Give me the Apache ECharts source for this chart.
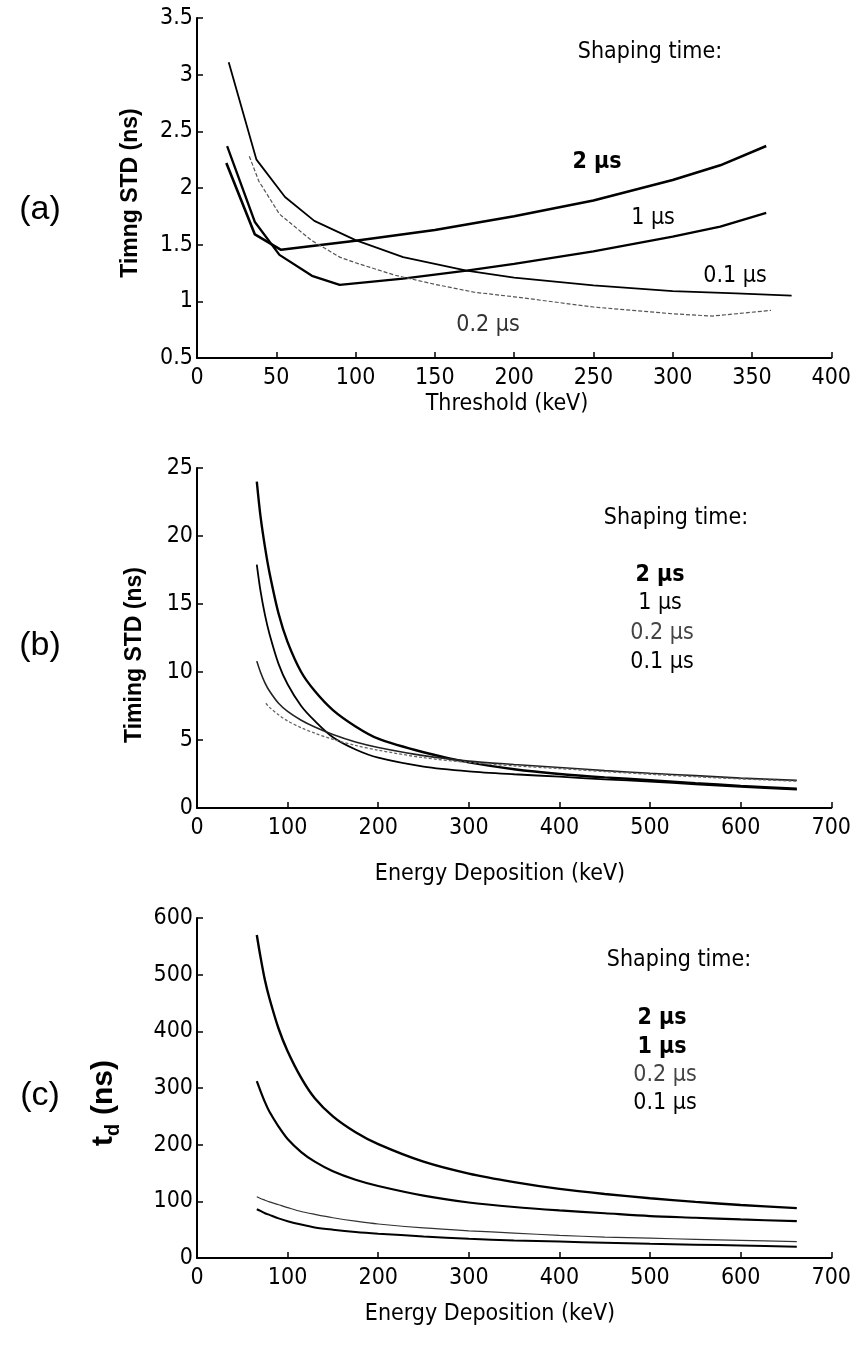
<!DOCTYPE html>
<html>
<head>
<meta charset="utf-8">
<script src="https://cdn.jsdelivr.net/npm/echarts@6/dist/echarts.min.js"></script>
<style>
html,body{margin:0;padding:0;background:#fff;}
#chart{width:854px;height:1345px;}
</style>
</head>
<body>
<div id="chart"></div>
<script>
// ---------- Panel (a): Timing STD vs Threshold ----------
const A_X_2us  = [18.5, 36.5, 53, 100, 150, 200, 250, 300, 330, 359];
const A_Y_2us  = [2.22, 1.59, 1.455, 1.535, 1.63, 1.75, 1.89, 2.07, 2.2, 2.37];
const A_X_1us  = [19, 36.5, 52, 72.5, 90, 130, 170, 200, 250, 300, 330, 359];
const A_Y_1us  = [2.37, 1.7, 1.41, 1.225, 1.145, 1.2, 1.27, 1.33, 1.44, 1.57, 1.66, 1.78];
const A_X_02us = [33, 39, 52, 72, 90, 100, 125, 150, 175, 200, 250, 300, 325, 362];
const A_Y_02us = [2.28, 2.06, 1.77, 1.54, 1.39, 1.34, 1.23, 1.15, 1.08, 1.04, 0.95, 0.89, 0.87, 0.92];
const A_X_01us = [20, 37.5, 55.5, 74, 100, 130, 150, 170, 200, 250, 300, 340, 375];
const A_Y_01us = [3.11, 2.25, 1.92, 1.71, 1.54, 1.39, 1.33, 1.27, 1.21, 1.14, 1.09, 1.07, 1.05];

// ---------- Panel (b): Timing STD vs Energy Deposition ----------
const B_X      = [66, 70, 75, 80, 90, 100, 115, 130, 150, 175, 200, 250, 300, 350, 400, 450, 500, 550, 600, 662];
const B_Y_2us  = [24.0, 21.5, 19.2, 17.3, 14.3, 12.2, 10.0, 8.6, 7.2, 6.0, 5.1, 4.1, 3.35, 2.85, 2.5, 2.25, 2.05, 1.83, 1.63, 1.42];
const B_Y_1us  = [17.9, 16.0, 14.2, 12.8, 10.6, 9.1, 7.5, 6.4, 5.2, 4.3, 3.7, 3.05, 2.7, 2.48, 2.3, 2.1, 1.95, 1.74, 1.56, 1.35];
const B_Y_02us = [10.8, 10.0, 9.2, 8.6, 7.7, 7.1, 6.45, 5.95, 5.4, 4.85, 4.45, 3.85, 3.45, 3.2, 2.98, 2.75, 2.55, 2.38, 2.2, 2.03];
const B_X_01us = [76, 80, 90, 100, 115, 130, 150, 175, 200, 250, 300, 350, 400, 450, 500, 550, 600, 662];
const B_Y_01us = [7.7, 7.4, 6.85, 6.4, 5.9, 5.5, 5.05, 4.6, 4.25, 3.7, 3.35, 3.1, 2.9, 2.68, 2.48, 2.3, 2.14, 1.97];

// ---------- Panel (c): t_d vs Energy Deposition ----------
const C_X      = [66, 70, 75, 80, 90, 100, 115, 130, 150, 175, 200, 250, 300, 350, 400, 450, 500, 550, 600, 662];
const C_Y_2us  = [570, 532, 490, 458, 405, 365, 318, 282, 250, 222, 201, 170, 149, 134, 122, 113, 105.5, 99, 93.5, 88];
const C_Y_1us  = [312, 295, 275, 258, 232, 210, 187, 170, 153, 138, 127, 110, 98, 90, 84, 79, 74, 71, 68, 65];
const C_Y_02us = [108, 105, 102, 99, 94, 89, 82, 77, 71, 65, 60, 53, 48, 44, 40, 37, 35, 33, 31, 29];
const C_Y_01us = [86, 83, 79, 76, 70, 65, 59, 54, 50, 46, 43, 38, 34, 31, 29, 27, 25, 23.5, 22, 20];

// ---------- Text ----------
const PANEL_LABELS = ['(a)', '(b)', '(c)'];
const Y_TITLES = ['Timng STD (ns)', 'Timing STD (ns)'];
const X_TITLES = ['Threshold (keV)', 'Energy Deposition (keV)', 'Energy Deposition (keV)'];
const SHAPING = 'Shaping time:';
const SERIES_NAMES = ['2 μs', '1 μs', '0.2 μs', '0.1 μs'];

const pairs = (xs, ys) => xs.map((x, i) => [x, ys[i]]);

const TXTFONT = "'Liberation Sans', Arial, sans-serif";
const CONDFONT = "'DejaVu Sans Condensed', 'DejaVu Sans', sans-serif";

const GRIDS = [
  {left: 197, top: 18, width: 639, height: 340},
  {left: 197, top: 468, width: 639, height: 340},
  {left: 197, top: 918, width: 639, height: 340}
];

function lab(margin) {
  return {color: '#000', fontFamily: CONDFONT, fontSize: 23, margin: margin, showMinLabel: true, showMaxLabel: true};
}
function xAxis(gi, max, interval) {
  return {
    type: 'value', gridIndex: gi, min: 0, max: max, interval: interval,
    axisLine: {show: true, onZero: false, lineStyle: {color: '#000', width: 2}},
    axisTick: {show: true, inside: true, length: 6, lineStyle: {color: '#000', width: 1.5}},
    axisLabel: lab(9),
    splitLine: {show: false}
  };
}
function yAxis(gi, min, max, interval) {
  return {
    type: 'value', gridIndex: gi, min: min, max: max, interval: interval,
    axisLine: {show: true, onZero: false, lineStyle: {color: '#000', width: 2}},
    axisTick: {show: true, inside: true, length: 6, lineStyle: {color: '#000', width: 1.5}},
    axisLabel: lab(4),
    splitLine: {show: false}
  };
}
function line(gi, data, width, color, type, smooth) {
  return {
    type: 'line', xAxisIndex: gi, yAxisIndex: gi, data: data,
    showSymbol: false, symbol: 'none', smooth: smooth ? 0.3 : false,
    lineStyle: {color: color, width: width, type: type || 'solid'},
    animation: false, silent: true
  };
}
function txt(x, y, text, font, color, align) {
  return {type: 'text', x: x, y: y, silent: true,
    style: {text: text, font: font, fill: color || '#000', textAlign: align || 'center', textVerticalAlign: 'middle'}};
}
function vtxt(x, y, text, font) {
  return {type: 'text', x: x, y: y, rotation: Math.PI / 2, silent: true,
    style: {text: text, font: font, fill: '#000', textAlign: 'center', textVerticalAlign: 'middle'}};
}

const chart = echarts.init(document.getElementById('chart'), null, {renderer: 'canvas'});

const F_ANN = '23px ' + CONDFONT;
const F_ANN_B = 'bold 23px ' + CONDFONT;
const F_XT = '23px ' + CONDFONT;

const graphics = [
  txt(40, 210, PANEL_LABELS[0], '34px ' + TXTFONT),
  txt(40, 646, PANEL_LABELS[1], '34px ' + TXTFONT),
  txt(40, 1096, PANEL_LABELS[2], '34px ' + TXTFONT),
  vtxt(131, 193, Y_TITLES[0], 'bold 23px ' + TXTFONT),
  vtxt(135, 655, Y_TITLES[1], 'bold 23px ' + TXTFONT),
  {type: 'group', x: 104, y: 1103, rotation: Math.PI / 2, silent: true, children: [
    {type: 'text', x: -43, y: 0, style: {text: 't', font: 'bold 30px ' + TXTFONT, fill: '#000', textAlign: 'left', textVerticalAlign: 'middle'}},
    {type: 'text', x: -33, y: 9, style: {text: 'd', font: 'bold 20px ' + TXTFONT, fill: '#000', textAlign: 'left', textVerticalAlign: 'middle'}},
    {type: 'text', x: -12, y: 0, style: {text: '(ns)', font: 'bold 30px ' + TXTFONT, fill: '#000', textAlign: 'left', textVerticalAlign: 'middle'}}
  ]},
  txt(507, 404, X_TITLES[0], F_XT),
  txt(500, 874, X_TITLES[1], F_XT),
  txt(490, 1314, X_TITLES[2], F_XT),
  // panel (a) annotations
  txt(650, 52, SHAPING, F_ANN),
  txt(597, 162, SERIES_NAMES[0], F_ANN_B),
  txt(653, 218, SERIES_NAMES[1], F_ANN),
  txt(735, 276, SERIES_NAMES[3], F_ANN),
  txt(488, 325, SERIES_NAMES[2], F_ANN, '#333'),
  // panel (b)
  txt(676, 518, SHAPING, F_ANN),
  txt(660, 575, SERIES_NAMES[0], F_ANN_B),
  txt(660, 603, SERIES_NAMES[1], F_ANN),
  txt(662, 633, SERIES_NAMES[2], F_ANN, '#444'),
  txt(662, 662, SERIES_NAMES[3], F_ANN),
  // panel (c)
  txt(679, 960, SHAPING, F_ANN),
  txt(662, 1018, SERIES_NAMES[0], F_ANN_B),
  txt(662, 1047, SERIES_NAMES[1], F_ANN_B),
  txt(665, 1075, SERIES_NAMES[2], F_ANN, '#444'),
  txt(665, 1103, SERIES_NAMES[3], F_ANN)
];

chart.setOption({
  backgroundColor: '#fff',
  animation: false,
  grid: GRIDS,
  xAxis: [xAxis(0, 400, 50), xAxis(1, 700, 100), xAxis(2, 700, 100)],
  yAxis: [yAxis(0, 0.5, 3.5, 0.5), yAxis(1, 0, 25, 5), yAxis(2, 0, 600, 100)],
  series: [
    line(0, pairs(A_X_2us, A_Y_2us), 2.6, '#000', 'solid', false),
    line(0, pairs(A_X_1us, A_Y_1us), 2.3, '#000', 'solid', false),
    line(0, pairs(A_X_02us, A_Y_02us), 1.2, '#555', [4, 2], false),
    line(0, pairs(A_X_01us, A_Y_01us), 1.8, '#000', 'solid', false),

    line(1, pairs(B_X, B_Y_2us), 2.4, '#000', 'solid', true),
    line(1, pairs(B_X, B_Y_1us), 1.8, '#000', 'solid', true),
    line(1, pairs(B_X, B_Y_02us), 1.6, '#222', 'solid', true),
    line(1, pairs(B_X_01us, B_Y_01us), 1.3, '#666', [3, 2], true),

    line(2, pairs(C_X, C_Y_2us), 2.4, '#000', 'solid', true),
    line(2, pairs(C_X, C_Y_1us), 2.2, '#000', 'solid', true),
    line(2, pairs(C_X, C_Y_02us), 1.2, '#333', 'solid', true),
    line(2, pairs(C_X, C_Y_01us), 2.0, '#000', 'solid', true)
  ],
  graphic: graphics
});
</script>
</body>
</html>
